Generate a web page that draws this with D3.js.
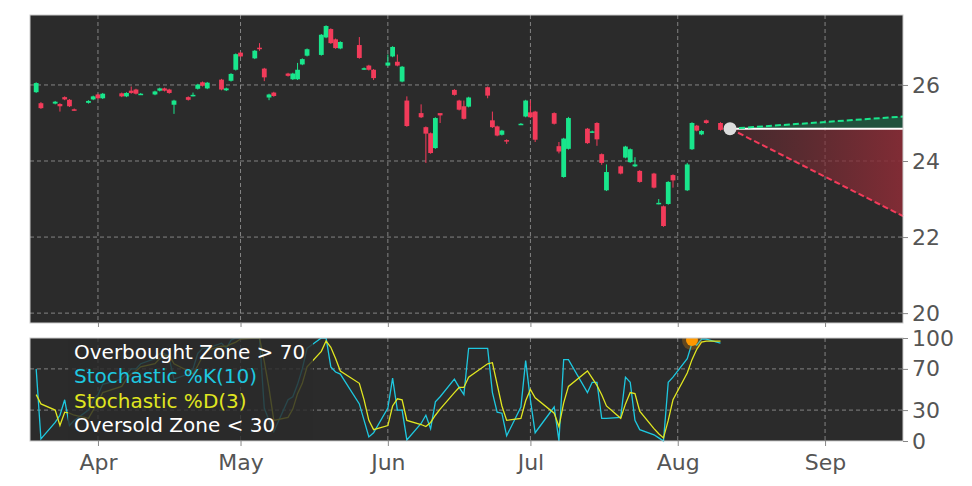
<!DOCTYPE html>
<html><head><meta charset="utf-8">
<script src="https://cdn.jsdelivr.net/npm/d3@7"></script>
<style>body{margin:0;background:#fff}svg{font-family:"DejaVu Sans",sans-serif}</style>
</head><body><svg id="c" width="972" height="486"></svg>
<script>
// days since Apr 1
const days=[-13,-12,-9,-8,-7,-6,-5,-2,-1,0,1,5,6,7,8,9,12,13,14,15,16,19,20,21,22,23,26,27,28,29,30,33,34,35,36,37,40,41,42,43,44,47,48,49,50,51,55,56,57,58,61,62,63,64,65,68,69,70,71,72,75,76,77,78,82,83,84,85,86,89,90,91,92,96,97,98,99,103,104,105,106,107,110,111,112,113,114,117,118,119,120,121,124,125,126,127,128,131];
const open=[25.81,25.52,25.51,25.50,25.68,25.61,25.36,25.53,25.62,25.75,25.65,25.78,25.70,25.85,25.88,25.75,25.75,25.85,25.91,25.88,25.48,25.68,25.72,25.90,26.07,25.91,26.14,25.86,26.11,26.40,26.85,26.70,26.98,26.43,25.67,25.80,26.30,26.15,26.15,26.54,26.77,26.79,27.25,27.47,27.20,26.96,27.05,26.42,26.51,26.40,26.51,26.75,26.61,26.09,25.59,25.26,24.89,24.73,24.34,25.26,25.87,25.59,25.44,25.43,25.94,25.07,24.91,24.69,24.55,24.97,25.17,25.28,25.30,25.26,24.39,23.58,24.32,24.85,24.76,25.00,24.18,23.23,23.86,24.09,23.97,23.86,23.74,23.67,22.88,22.81,22.87,23.63,23.23,24.31,24.93,24.70,25.07,25.00];
const close=[26.05,25.39,25.56,25.44,25.62,25.44,25.34,25.58,25.70,25.65,25.77,25.70,25.79,25.79,25.77,25.77,25.83,25.91,25.85,25.79,25.59,25.61,25.74,26.01,25.98,26.06,25.88,25.91,26.29,26.81,26.75,26.90,26.96,26.20,25.75,25.71,26.24,26.30,26.40,26.68,26.94,27.32,27.55,27.10,26.97,27.13,26.71,26.44,26.40,26.18,26.59,27.00,26.51,26.48,24.92,25.15,24.72,24.21,25.13,25.20,25.74,25.35,25.11,25.67,25.72,24.89,24.67,24.80,24.52,24.98,25.59,25.15,24.56,24.98,24.25,24.59,25.13,24.47,24.78,24.57,23.95,23.71,23.67,24.38,24.31,23.91,23.45,23.30,22.90,22.29,23.45,23.49,23.91,25.00,24.80,24.79,25.00,24.82];
const high=[26.07,25.55,25.58,25.52,25.70,25.63,25.38,25.60,25.72,25.77,25.79,25.80,25.81,25.96,25.90,25.79,25.85,25.93,25.93,25.90,25.61,25.70,25.80,26.03,26.09,26.08,26.16,25.93,26.31,26.83,26.87,26.92,27.10,26.45,25.77,25.82,26.32,26.32,26.58,26.70,26.96,27.34,27.57,27.49,27.22,27.15,27.26,26.46,26.53,26.42,26.80,27.02,26.80,26.50,25.70,25.49,24.91,24.75,25.15,25.22,25.89,25.61,25.59,25.69,25.96,25.30,24.93,24.82,24.57,25.00,25.61,25.60,25.32,25.28,24.50,24.61,25.16,24.87,24.80,25.02,24.20,23.91,23.88,24.40,24.33,24.10,23.76,23.69,23.00,22.83,23.47,23.65,23.95,25.02,24.95,24.81,25.09,25.02];
const low=[25.79,25.37,25.49,25.30,25.60,25.42,25.32,25.51,25.60,25.63,25.63,25.68,25.68,25.77,25.75,25.74,25.73,25.83,25.83,25.77,25.24,25.59,25.70,25.88,25.96,25.89,25.86,25.84,26.09,26.38,26.73,26.68,26.90,26.10,25.60,25.69,26.22,26.13,26.13,26.52,26.75,26.77,27.23,27.08,26.95,26.94,26.69,26.40,26.38,26.13,26.49,26.73,26.49,26.07,24.90,25.13,23.95,24.19,24.32,25.00,25.72,25.33,25.09,25.41,25.65,24.87,24.65,24.67,24.45,24.95,25.15,25.13,24.50,24.96,24.20,23.56,24.30,24.45,24.74,24.40,23.90,23.21,23.65,24.07,23.95,23.84,23.43,23.28,22.86,22.27,22.85,23.30,23.21,24.29,24.78,24.68,24.98,24.80];
const stochK=[70,2,18,25,40,15,20,30,40,45,55,60,65,70,70,75,80,85,85,80,60,65,70,85,90,90,95,90,98,100,100,100,100,32,20,9,40,43,55,70,90,100,100,72,67,65,36,20,4,8,32,61,30,30,1,17,25,12,38,43,60,52,45,90,90,47,28,27,5,33,78,40,8,33,0,79,79,47,57,57,22,22,23,62,57,20,11,6,3,0,57,62,80,95,93,99,99,95];
const stochD=[45,36,30,15,28,27,25,22,30,38,47,53,60,65,68,72,75,80,83,83,75,68,65,73,82,88,92,92,94,96,99,100,100,77,51,20,23,31,46,56,72,87,97,91,80,68,56,40,20,11,15,34,41,40,20,16,14,18,25,31,47,52,52,62,75,76,55,34,20,22,39,50,42,27,14,37,53,68,61,54,45,34,22,36,47,46,29,12,7,3,20,40,66,79,89,96,97,97];
const monthDays=[0,30,61,91,122,153];
const monthLabels=["Apr","May","Jun","Jul","Aug","Sep"];
const priceTicks=[20,22,24,26];
const stochTicks=[0,30,70,100];
const lastDay=133, lastPrice=24.85, upTarget=25.17, downTarget=22.55, dotK=98, dotDay=125;

const svg=d3.select("#c");
const L=30,R=903,T1=15,B1=323,T2=338,B2=441;
const x=d3.scaleLinear().domain([-14.3,169.4]).range([L,R]);
const y=d3.scaleLinear().domain([19.74,27.84]).range([B1,T1]);
const ys=d3.scaleLinear().domain([0,100]).range([B2,T2]);
const bg="#2b2b2b",grid="#9a9a9a",tc="#555",G="#19e68c",Rd="#f23b5a";

svg.append("rect").attr("x",L).attr("y",T1).attr("width",R-L).attr("height",B1-T1).attr("fill",bg);
svg.append("rect").attr("x",L).attr("y",T2).attr("width",R-L).attr("height",B2-T2).attr("fill",bg);
const g1=svg.append("g"),g2=svg.append("g");
priceTicks.forEach(v=>g1.append("line").attr("x1",L).attr("x2",R).attr("y1",y(v)).attr("y2",y(v)).attr("stroke",grid).attr("stroke-dasharray","4,3").attr("stroke-width",0.8));
monthDays.forEach(d=>{g1.append("line").attr("x1",x(d)).attr("x2",x(d)).attr("y1",T1).attr("y2",B1).attr("stroke",grid).attr("stroke-dasharray","4,3").attr("stroke-width",0.8);
 g2.append("line").attr("x1",x(d)).attr("x2",x(d)).attr("y1",T2).attr("y2",B2).attr("stroke",grid).attr("stroke-dasharray","4,3").attr("stroke-width",0.8);});
[30,70].forEach(v=>g2.append("line").attr("x1",L).attr("x2",R).attr("y1",ys(v)).attr("y2",ys(v)).attr("stroke",grid).attr("stroke-dasharray","4,3").attr("stroke-width",0.8));

// forecast cone
const defs=svg.append("defs");
const gr=defs.append("linearGradient").attr("id","rg").attr("x1",0).attr("x2",1).attr("y1",0).attr("y2",0);
gr.append("stop").attr("offset",0).attr("stop-color","#7a2a33").attr("stop-opacity",0.3);
gr.append("stop").attr("offset",1).attr("stop-color","#8a2c36").attr("stop-opacity",0.9);
const xe=x.domain()[1];
g1.append("path").attr("d",`M${x(lastDay)},${y(lastPrice)}L${x(xe)},${y(lastPrice)}L${x(xe)},${y(downTarget)}Z`).attr("fill","url(#rg)");
g1.append("path").attr("d",`M${x(lastDay)},${y(lastPrice)}L${x(xe)},${y(lastPrice)}L${x(xe)},${y(upTarget)}Z`).attr("fill","#1a6a4a").attr("opacity",0.6);
g1.append("line").attr("x1",x(lastDay)).attr("y1",y(lastPrice)).attr("x2",x(xe)).attr("y2",y(lastPrice)).attr("stroke","#fff").attr("stroke-width",2);
g1.append("line").attr("x1",x(lastDay)).attr("y1",y(lastPrice)).attr("x2",x(xe)).attr("y2",y(upTarget)).attr("stroke",G).attr("stroke-width",2).attr("stroke-dasharray","6,3");
g1.append("line").attr("x1",x(lastDay)).attr("y1",y(lastPrice)).attr("x2",x(xe)).attr("y2",y(downTarget)).attr("stroke",Rd).attr("stroke-width",2).attr("stroke-dasharray","6,3");

// candles
days.forEach((d,i)=>{const c=close[i]>=open[i]?G:Rd;
 g1.append("line").attr("x1",x(d)).attr("x2",x(d)).attr("y1",y(high[i])).attr("y2",y(low[i])).attr("stroke",c).attr("stroke-width",1);
 const t=y(Math.max(open[i],close[i])),b=y(Math.min(open[i],close[i]));
 g1.append("rect").attr("x",x(d)-2.4).attr("width",4.8).attr("y",t).attr("height",Math.max(1.5,b-t)).attr("fill",c);});
g1.append("circle").attr("cx",x(lastDay)).attr("cy",y(lastPrice)).attr("r",6.5).attr("fill","#ddd");

// stochastic
const ln=d3.line().x((v,i)=>x(days[i])).y(v=>ys(v));
g2.append("path").attr("d",ln(stochK)).attr("fill","none").attr("stroke","#1ec8e0").attr("stroke-width",1.3);
g2.append("path").attr("d",ln(stochD)).attr("fill","none").attr("stroke","#e0e620").attr("stroke-width",1.3);
g2.append("circle").attr("cx",x(dotDay)).attr("cy",ys(dotK)).attr("r",10).attr("fill","#ff9800").attr("opacity",0.25);
g2.append("circle").attr("cx",x(dotDay)).attr("cy",ys(dotK)).attr("r",6).attr("fill","#ff9800");
// legend
g2.append("rect").attr("x",68).attr("y",T2).attr("width",245).attr("height",B2-T2).attr("fill",bg).attr("opacity",0.82);
[["Overbought Zone > 70","#fff"],["Stochastic %K(10)","#1ec8e0"],["Stochastic %D(3)","#e0e620"],["Oversold Zone < 30","#fff"]].forEach((t,i)=>
 g2.append("text").attr("x",74).attr("y",359+i*24.3).attr("fill",t[1]).attr("font-size",20).text(t[0]));

// frame clip cover
svg.append("rect").attr("x",0).attr("y",T2-15).attr("width",972).attr("height",15).attr("fill","#fff");
svg.append("rect").attr("x",L).attr("y",T1).attr("width",R-L).attr("height",B1-T1).attr("fill","none").attr("stroke","#ccc");
svg.append("rect").attr("x",L).attr("y",T2).attr("width",R-L).attr("height",B2-T2).attr("fill","none").attr("stroke","#ccc");

// axes
const ay1=d3.axisRight(y).tickValues(priceTicks).tickSize(5);
const a1=svg.append("g").attr("transform",`translate(${R},0)`).call(ay1);
const ay2=d3.axisRight(ys).tickValues(stochTicks).tickSize(5);
const a2=svg.append("g").attr("transform",`translate(${R},0)`).call(ay2);
const ax=d3.axisBottom(x).tickValues(monthDays).tickFormat((d,i)=>monthLabels[i]).tickSize(5);
const a3=svg.append("g").attr("transform",`translate(0,${B2})`).call(ax);
const a0=svg.append("g").attr("transform",`translate(0,${B1})`).call(d3.axisBottom(x).tickValues(monthDays).tickFormat("").tickSize(4));
[a1,a2,a3,a0].forEach(a=>{a.select(".domain").remove();a.selectAll("line").attr("stroke","#888");
 a.selectAll("text").attr("fill",tc).attr("font-size",22).attr("font-family","DejaVu Sans");});
a1.selectAll("text").attr("x",9);a2.selectAll("text").attr("x",9);
a3.selectAll("text").attr("dy","0.95em");
</script></body></html>
